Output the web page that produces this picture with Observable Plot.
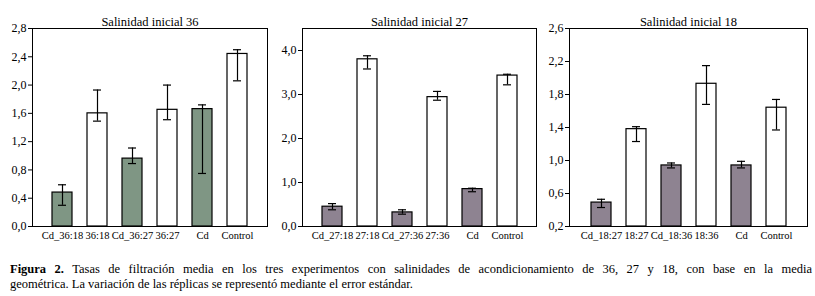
<!DOCTYPE html>
<html>
<head>
<meta charset="utf-8">
<script src="https://cdn.jsdelivr.net/npm/d3@7"></script>
<script src="https://cdn.jsdelivr.net/npm/@observablehq/plot@0.6"></script>
<style>
  body { margin: 0; background: #fff; }
  #root { position: relative; width: 815px; height: 296px; background: #fff; font-family: "Liberation Serif", serif; color: #000; }
  .panel { position: absolute; top: 0; }
  .cap { position: absolute; left: 10px; width: 802px; font-size: 12.5px; line-height: 15px; }
</style>
</head>
<body>
<div id="root"></div>
<script>
// Panel 1: Salinidad inicial 36
const title36 = "Salinidad inicial 36";
const cats36 = ["Cd_36:18", "36:18", "Cd_36:27", "36:27", "Cd", "Control"];
const mean36 = [0.48, 1.60, 0.96, 1.65, 1.66, 2.44];
const lo36   = [0.30, 1.49, 0.89, 1.51, 0.75, 2.06];
const hi36   = [0.59, 1.93, 1.11, 2.00, 1.72, 2.50];
const ticks36 = [0.0, 0.4, 0.8, 1.2, 1.6, 2.0, 2.4, 2.8];

// Panel 2: Salinidad inicial 27
const title27 = "Salinidad inicial 27";
const cats27 = ["Cd_27:18", "27:18", "Cd_27:36", "27:36", "Cd", "Control"];
const mean27 = [0.45, 3.80, 0.32, 2.94, 0.85, 3.43];
const lo27   = [0.38, 3.58, 0.28, 2.87, 0.79, 3.22];
const hi27   = [0.52, 3.88, 0.38, 3.07, 0.87, 3.46];
const ticks27 = [0.0, 1.0, 2.0, 3.0, 4.0];

// Panel 3: Salinidad inicial 18
const title18 = "Salinidad inicial 18";
const cats18 = ["Cd_18:27", "18:27", "Cd_18:36", "18:36", "Cd", "Control"];
const mean18 = [0.49, 1.38, 0.94, 1.93, 0.94, 1.64];
const lo18   = [0.43, 1.23, 0.91, 1.68, 0.91, 1.37];
const hi18   = [0.53, 1.41, 0.97, 2.15, 0.99, 1.74];
const ticks18 = [0.2, 0.6, 1.0, 1.4, 1.8, 2.2, 2.6];

const caption1 = "Tasas de filtración media en los tres experimentos con salinidades de acondicionamiento de 36, 27 y 18, con base en la media";
const caption2 = "geométrica. La variación de las réplicas se representó mediante el error estándar.";

const FONT = "'Liberation Serif', serif";
const fmt = d => d.toFixed(1).replace(".", ",");

function panel({title, cats, mean, lo, hi, domain, ticks, base, fill, left, mLeft, mRight}) {
  const data = cats.map((c, i) => ({cat: c, v: mean[i], lo: lo[i], hi: hi[i], cd: c.startsWith("Cd")}));
  const marks = [
    Plot.barY(data, {x: "cat", y1: base, y2: "v", fill: d => d.cd ? fill : "#fff", stroke: "#000", strokeWidth: 1.2}),
    Plot.ruleX(data, {x: "cat", y1: "lo", y2: "hi", stroke: "#000", strokeWidth: 1.2}),
    Plot.tickY(data, {x: "cat", y: "hi", stroke: "#000", strokeWidth: 1.2, insetLeft: 6, insetRight: 6}),
    Plot.tickY(data, {x: "cat", y: "lo", stroke: "#000", strokeWidth: 1.2, insetLeft: 6, insetRight: 6}),
    Plot.axisY({ticks, tickFormat: fmt, tickSize: 4, tickPadding: 2, fontSize: 12, stroke: "#000", fontFamily: FONT}),
    Plot.axisX({tickSize: 0, tickPadding: 5, fontSize: 10.5, fontFamily: FONT}),
    Plot.frame({stroke: "#000", strokeWidth: 1}),
    Plot.text([title], {frameAnchor: "top", dy: -11, fontSize: 12.5, fontFamily: FONT})
  ];
  const svg = Plot.plot({
    width: 275,
    height: 245,
    marginLeft: mLeft,
    marginRight: mRight,
    marginTop: 28,
    marginBottom: 19,
    style: {fontFamily: FONT, color: "#000", background: "transparent"},
    x: {domain: cats, padding: 0.44, paddingOuter: 0.55, label: null},
    y: {domain, label: null},
    marks
  });
  const wrap = document.createElement("div");
  wrap.className = "panel";
  wrap.style.left = left + "px";
  wrap.appendChild(svg);
  return wrap;
}

const root = document.getElementById("root");
root.appendChild(panel({title: title36, cats: cats36, mean: mean36, lo: lo36, hi: hi36, domain: [0, 2.8], ticks: ticks36, base: 0, fill: "#7f9684", left: 0, mLeft: 32, mRight: 8}));
root.appendChild(panel({title: title27, cats: cats27, mean: mean27, lo: lo27, hi: hi27, domain: [0, 4.5], ticks: ticks27, base: 0, fill: "#8e8391", left: 270, mLeft: 32, mRight: 9}));
root.appendChild(panel({title: title18, cats: cats18, mean: mean18, lo: lo18, hi: hi18, domain: [0.2, 2.6], ticks: ticks18, base: 0.2, fill: "#8e8391", left: 540, mLeft: 29, mRight: 8}));

const c1 = document.createElement("div");
c1.className = "cap";
c1.style.top = "262px";
c1.style.textAlign = "justify";
c1.style.textAlignLast = "justify";
const b = document.createElement("b");
b.textContent = "Figura 2.";
c1.appendChild(b);
c1.appendChild(document.createTextNode(" " + caption1));
root.appendChild(c1);

const c2 = document.createElement("div");
c2.className = "cap";
c2.style.top = "277px";
c2.textContent = caption2;
root.appendChild(c2);
</script>
</body>
</html>
